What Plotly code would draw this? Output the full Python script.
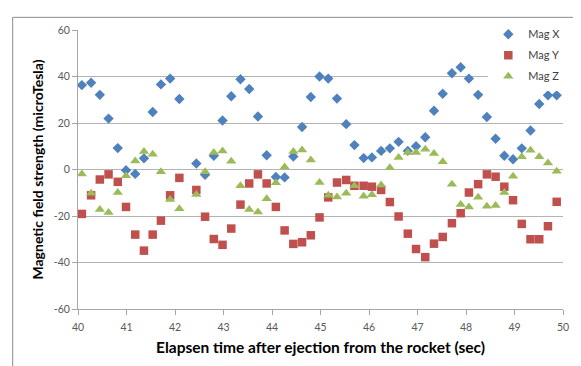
import plotly.graph_objects as go

time_s = [40.08, 40.27, 40.45, 40.63, 40.82, 40.99, 41.18, 41.36, 41.54, 41.71, 41.90, 42.09,
          42.44, 42.62, 42.80, 42.98, 43.16, 43.35, 43.53, 43.71, 43.89, 44.08, 44.26, 44.44,
          44.62, 44.80, 44.98, 45.16, 45.34, 45.53, 45.70, 45.89, 46.06, 46.25, 46.43, 46.61,
          46.80, 46.97, 47.16, 47.34, 47.52, 47.71, 47.89, 48.06, 48.25, 48.43, 48.61, 48.79,
          48.97, 49.15, 49.33, 49.51, 49.69, 49.87]

mag_x = [36.3, 37.3, 32.1, 21.9, 9.2, -0.3, -1.9, 4.8, 24.7, 36.6, 39.1, 30.3,
         2.6, -2.3, 5.9, 21.1, 31.5, 38.8, 34.6, 22.8, 6.1, -3.2, -3.4, 5.6,
         18.3, 31.2, 40.0, 39.1, 30.5, 19.5, 10.5, 4.9, 5.2, 8.0, 9.1, 11.9,
         8.0, 10.0, 13.9, 25.3, 32.6, 41.4, 44.0, 39.1, 32.1, 22.6, 13.2, 5.9,
         4.4, 9.1, 16.8, 28.2, 31.9, 31.9]

mag_y = [-19.1, -11.1, -4.3, -2.1, -5.3, -16.1, -28.0, -34.9, -28.0, -22.0, -11.1, -3.6,
         -8.8, -20.3, -29.9, -32.4, -25.4, -15.1, -6.0, -2.1, -6.0, -16.1, -26.2, -32.0,
         -31.3, -28.3, -20.6, -12.0, -5.6, -4.5, -7.0, -7.0, -7.4, -8.8, -14.0, -20.2,
         -27.6, -34.2, -37.7, -31.9, -29.0, -23.1, -18.8, -9.9, -6.3, -2.1, -3.1, -7.4,
         -13.2, -23.4, -30.0, -30.0, -24.4, -13.9]

mag_z = [-1.9, -10.2, -17.2, -18.5, -9.9, -2.7, 3.7, 7.7, 6.6, -1.0, -12.9, -16.9,
         -10.7, -1.0, 7.3, 8.0, 3.5, -7.0, -17.2, -18.3, -12.6, -5.7, 1.1, 7.7,
         8.4, 4.1, -5.6, -11.1, -11.8, -10.2, -7.0, -11.5, -10.9, -6.7, 0.7, 5.2,
         7.3, 7.3, 8.7, 6.9, 3.3, -6.3, -15.1, -16.1, -11.9, -15.8, -15.5, -9.9,
         -2.9, 5.5, 8.3, 5.5, 2.8, -0.7]

x_ticks = [40, 41, 42, 43, 44, 45, 46, 47, 48, 49, 50]
y_ticks = [-60, -40, -20, 0, 20, 40, 60]

FONT = "Lato"

fig = go.Figure()
fig.add_trace(go.Scatter(x=time_s, y=mag_x, mode="markers", name="Mag X", legendgroup="x",
                         marker=dict(symbol="diamond", size=8, color="#4F81BD")))
fig.add_trace(go.Scatter(x=time_s, y=mag_y, mode="markers", name="Mag Y", legendgroup="y",
                         marker=dict(symbol="square", size=8.5, color="#C0504D")))
fig.add_trace(go.Scatter(x=time_s, y=mag_z, mode="markers", name="Mag Z", legendgroup="z",
                         marker=dict(symbol="triangle-up", size=9, color="#9BBB59")))

# figure is offset by the page's 8px body margin
fig.update_layout(
    width=573, height=358,
    margin=dict(l=70, r=13, t=14, b=57),
    paper_bgcolor="white", plot_bgcolor="white",
    font=dict(family=FONT, size=10, color="#595959"),
    legend=dict(x=0.846, y=1.037, xanchor="left", yanchor="top",
                bgcolor="white", borderwidth=0,
                font=dict(family=FONT, size=11, color="#404040"),
                itemwidth=30, tracegroupgap=2),
    shapes=[
        dict(type="line", xref="paper", yref="paper",
             x0=-66/490, x1=-66/490, y0=(309-370)/287, y1=(309-9)/287,
             line=dict(color="#8c8c8c", width=1)),
        dict(type="line", xref="paper", yref="paper",
             x0=-66/490, x1=520/490, y0=(309-9)/287, y1=(309-9)/287,
             line=dict(color="#8c8c8c", width=1)),
    ],
)

fig.update_xaxes(
    range=[40, 50], tickvals=x_ticks, ticktext=[str(v) for v in x_ticks],
    showgrid=False, zeroline=False,
    showline=True, linecolor="#a6a6a6", linewidth=1,
    ticks="outside", ticklen=5, tickcolor="#a6a6a6", ticklabelstandoff=3,
    tickfont=dict(family=FONT, size=10.5, color="#595959"),
    title=dict(text="<b>Elapsen time after ejection from the rocket (sec)</b>",
               font=dict(family=FONT, size=15.5, color="black"), standoff=10),
)
fig.update_yaxes(
    range=[-60, 60], tickvals=y_ticks, ticktext=[str(v) for v in y_ticks],
    showgrid=True, gridcolor="#b3b3b3", gridwidth=1, zeroline=False,
    showline=True, linecolor="#a6a6a6", linewidth=1,
    ticks="outside", ticklen=5, tickcolor="#a6a6a6",
    tickfont=dict(family=FONT, size=10.5, color="#595959"),
    title=dict(text="<b>Magnetic field strength (microTesla)</b>",
               font=dict(family=FONT, size=14, color="black"), standoff=6),
)

fig.write_html("out.html")
